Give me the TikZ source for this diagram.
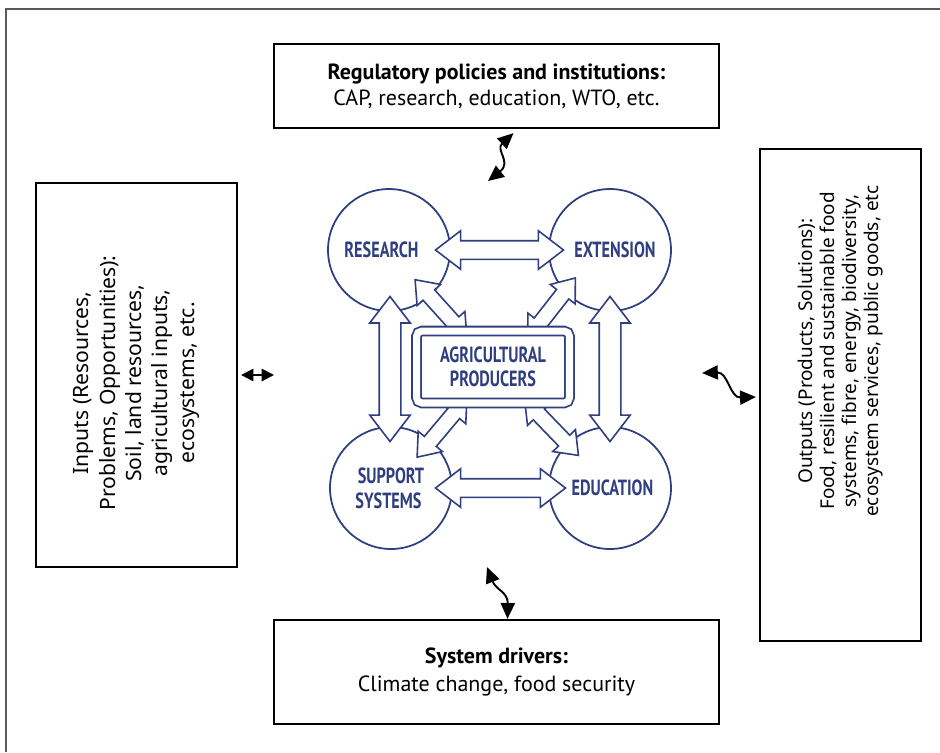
\documentclass[tikz,border=0pt]{standalone}
\usepackage{fontspec}
\setmainfont{Noto Sans}
\newfontfamily\ptsans{PT Sans}
\newfontfamily\condsans[FakeStretch=0.74]{PT Sans}
\usetikzlibrary{arrows.meta,shapes.arrows,calc}
\definecolor{DiagNavy}{HTML}{2E3E7E}
\definecolor{FrameGray}{HTML}{5A5A5A}

\begin{document}
\begin{tikzpicture}[x=0.02cm, y=-0.02cm,
    box/.style={draw=black, line width=1.3pt, fill=white, align=center, inner sep=0pt},
    circ/.style={circle, draw=DiagNavy, line width=1pt, minimum size=2.44cm, inner sep=0pt,
      align=center, text=DiagNavy, font=\condsans\bfseries\fontsize{12.5}{14}\selectfont},
    hollow/.style={double arrow, draw=DiagNavy, fill=white, line width=0.9pt, inner xsep=0pt,
      double arrow tip angle=75},
    link/.style={{Triangle[length=9pt,width=8pt]}-{Triangle[length=9pt,width=8pt]}, line width=1.1pt}
  ]
    \useasboundingbox (0,0) rectangle (940,752);
    \draw[FrameGray, line width=1.2pt] (6,752) |- (940,9);

    % outer boxes
    \node[box, minimum width=8.9cm, minimum height=1.68cm, font=\ptsans\fontsize{12.5}{15}\selectfont] (policies) at (496.5,86)
      {\textbf{Regulatory policies and institutions:}\\CAP, research, education, WTO, etc.};
    \node[box, rotate=90, minimum width=7.68cm, minimum height=4.02cm] (inputs) at (136.5,375) {};
    \node[rotate=90, align=center, font=\fontsize{12}{15}\selectfont] (inputtext) at ($(inputs.center)+(0,8)$)
      {Inputs (Resources,\\Problems, Opportunities):\\Soil, land resources,\\agricultural inputs,\\ecosystems, etc.};
    \node[box, rotate=90, minimum width=9.84cm, minimum height=3.22cm] (outputs) at (840.5,395) {};
    \node[rotate=90, align=center, font=\fontsize{10.8}{12.6}\selectfont] (outputtext) at ($(outputs.center)+(0,-44)$)
      {Outputs (Products, Solutions):\\Food, resilient and sustainable food\\systems, fibre, energy, biodiversity,\\ecosystem services, public goods, etc};
    \node[box, minimum width=8.9cm, minimum height=2.08cm, font=\ptsans\fontsize{12.5}{16}\selectfont] (drivers) at (496.5,672)
      {\textbf{System drivers:}\\Climate change, food security};

    % actors
    \node[circ] (research) at (389,250) {RESEARCH\hspace*{0.3cm}};
    \node[circ] (extension) at (610,250) {\hspace*{0.2cm}EXTENSION};
    \node[circ] (support) at (391,488) {SUPPORT\\SYSTEMS\hspace*{0.1cm}};
    \node[circ] (education) at (610,488) {\hspace*{0.1cm}EDUCATION};
    \coordinate (centre) at (493,367);

    \node[hollow, minimum height=2.56cm, inner ysep=0.17cm, double arrow head extend=0.2cm] (resext) at ($(research)!0.5!(extension)$) {};
    \node[hollow, minimum height=2.6cm, inner ysep=0.17cm, double arrow head extend=0.2cm] (supedu) at ($(support)!0.5!(education)$) {};
    \node[hollow, rotate=90, minimum height=2.9cm, inner ysep=0.2cm, double arrow head extend=0.19cm] (ressup) at ($(research)!0.5!(support)$) {};
    \node[hollow, rotate=90, minimum height=2.9cm, inner ysep=0.2cm, double arrow head extend=0.19cm] (extedu) at ($(extension)!0.5!(education)$) {};
    \node[hollow, rotate=-48, minimum height=1.55cm, inner ysep=0.14cm, double arrow head extend=0.16cm] (resprod) at ($(research)!0.5!(centre)$) {};
    \node[hollow, rotate=52, minimum height=1.55cm, inner ysep=0.14cm, double arrow head extend=0.16cm] (extprod) at ($(extension)!0.5!(centre)$) {};
    \node[hollow, rotate=50, minimum height=1.55cm, inner ysep=0.14cm, double arrow head extend=0.16cm] (supprod) at ($(support)!0.5!(centre)$) {};
    \node[hollow, rotate=-46, minimum height=1.55cm, inner ysep=0.14cm, double arrow head extend=0.16cm] (eduprod) at ($(education)!0.5!(centre)$) {};

    \node[draw=DiagNavy, double=white, double distance=4pt, line width=1pt, rounded corners=3pt, fill=white,
      minimum width=3.06cm, minimum height=1.44cm, align=center, text=DiagNavy,
      font=\condsans\bfseries\fontsize{12.5}{14}\selectfont] (producers) at (centre) {AGRICULTURAL\\PRODUCERS};

    % links to the surroundings
    \coordinate (poltip) at (488,181);
    \coordinate (inptip) at (274,375);
    \coordinate (outtip) at (702,373);
    \coordinate (drvtip) at (487,567);
    \draw[link] ($(policies.south)+(17,4)$) .. controls (495,150) and (512,162) .. (poltip);
    \draw[{Triangle[length=7pt,width=7pt]}-{Triangle[length=7pt,width=7pt]}, line width=1.1pt]
      ($(inputs.south)+(3,0)$) -- (inptip);
    \draw[link] (outtip) .. controls (728,372) and (730,398) .. ($(outputs.north)+(-3,2)$);
    \draw[link] (drvtip) .. controls (496,590) and (508,592) .. ($(drivers.north)+(11,0)$);
  \end{tikzpicture}
\end{document}
